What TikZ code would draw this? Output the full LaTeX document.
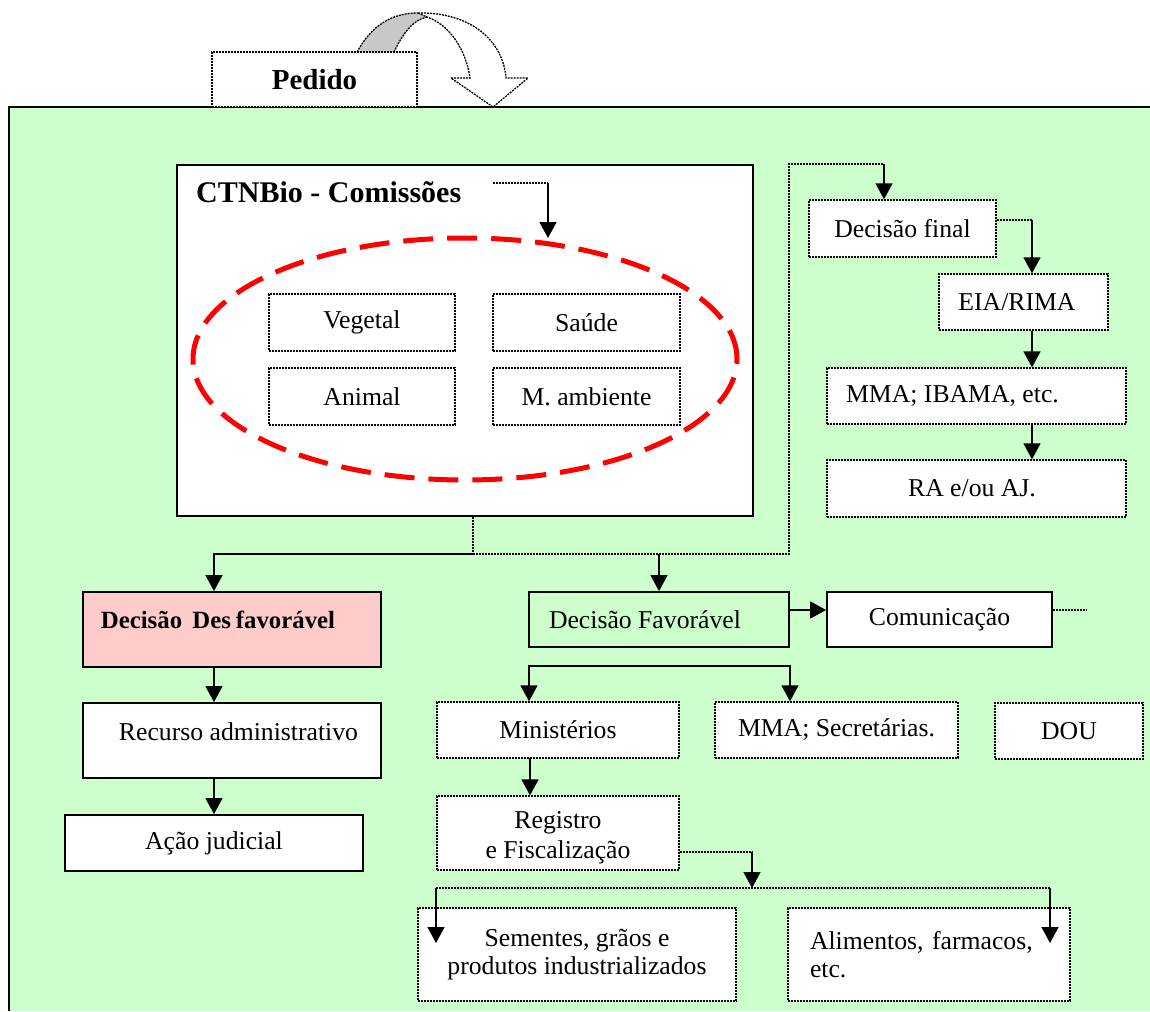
\documentclass[tikz,border=0pt]{standalone}
\usepackage{fontspec}
\setmainfont{Liberation Serif}
\usetikzlibrary{arrows.meta,calc}
\definecolor{bggreen}{HTML}{CCFFCC}
\definecolor{pinkfill}{HTML}{FFCCCC}
\definecolor{arrowgray}{HTML}{C8C8C8}
\newcommand{\txtfont}{\fontsize{25.7}{30}\selectfont}
\frenchspacing
\begin{document}
\begin{tikzpicture}[x=1pt,y=-1pt,
  >={Triangle[length=16pt,width=17pt]},
  solidbox/.style={draw, line width=1.8pt, fill=white, inner sep=0pt, font=\txtfont},
  dotbox/.style={draw, line width=1.3pt, dash pattern=on 2pt off 1pt, fill=white, inner sep=0pt, font=\txtfont},
  conn/.style={line width=1.5pt, ->},
  dotline/.style={line width=1.3pt, dash pattern=on 2pt off 1pt},
  lbl/.style={font=\txtfont, inner sep=0pt},
]
\useasboundingbox (0,0) rectangle (1150,1011);
% green area
\fill[bggreen] (9,107) rectangle (1150,1011);
\draw[line width=2pt] (9,1011) -- (9,107) -- (1150,107);

% curved block arrow above
\fill[arrowgray] (357,52) .. controls (372,25) and (392,13) .. (418,13) -- (427,17) .. controls (413,20) and (403,33) .. (394,52) -- cycle;
\draw[dotline, fill=white] (418,13) .. controls (470,12) and (503,40) .. (506,78) -- (528,78) -- (493,107) -- (451,78) -- (470,78) .. controls (466,50) and (450,25) .. (427,17) -- cycle;
\draw[dotline] (357,52) .. controls (372,25) and (392,13) .. (418,13);
\draw[dotline] (394,52) .. controls (403,33) and (413,20) .. (427,17);

% Pedido
\node[dotbox, minimum width=205pt, minimum height=55pt, font=\bfseries\fontsize{29}{34}\selectfont] (pedido) at (314.5,79.5) {Pedido};

% CTNBio box
\node[solidbox, minimum width=576pt, minimum height=351pt] (ctn) at (465,340.5) {};
\node[anchor=west, inner sep=0pt, font=\bfseries\fontsize{30}{34}\selectfont] (ctntitle) at (196,192) {CTNBio - Comissões};
\draw[red, line width=5pt, dash pattern=on 30pt off 14pt] (465,359) ellipse [x radius=272pt, y radius=121pt];
\node[dotbox, minimum width=186pt, minimum height=57pt] (vegetal) at (362,322.5) {Vegetal};
\node[dotbox, minimum width=187pt, minimum height=57pt] (saude) at (586.5,322.5) {Saúde};
\node[dotbox, minimum width=186pt, minimum height=57pt] (animal) at (362,396.5) {Animal};
\node[dotbox, minimum width=187pt, minimum height=57pt] (mamb) at (586.5,396.5) {M. ambiente};
\coordinate (t1) at (493,183);
\coordinate (t2) at (548,183);
\coordinate (t3) at (548,238);
\draw[dotline] (t1) -- (t2);
\draw[conn] (t2) -- (t3);

% left column
\node[solidbox, fill=pinkfill, minimum width=298pt, minimum height=75pt,
  label={[lbl, font=\bfseries\fontsize{24.8}{30}\selectfont, xshift=-14pt, yshift=9.5pt]center:Decisão\hspace{4pt} Des\kern5pt favorável}] (desf) at (232,629.5) {};
\node[solidbox, minimum width=298pt, minimum height=75pt,
  label={[lbl, xshift=6.5pt, yshift=8.5pt]center:Recurso administrativo}] (rec) at (232,740.5) {};
\node[solidbox, minimum width=298pt, minimum height=56pt] (acao) at (214,843) {Ação judicial};

% middle
\node[solidbox, fill=none, minimum width=260pt, minimum height=55pt] (fav) at (659,619.5) {\hspace*{-28pt}Decisão Favorável};
\node[solidbox, minimum width=225pt, minimum height=55pt] (com) at (939.5,619.5) {Comunicação};
\node[dotbox, minimum width=242pt, minimum height=56pt] (min) at (558,730) {Ministérios};
\node[dotbox, minimum width=243pt, minimum height=56pt] (mmasec) at (836.5,730) {MMA; Secretárias.};
\node[dotbox, minimum width=148pt, minimum height=56pt] (dou) at (1069,731) {DOU};
\node[dotbox, minimum width=242pt, minimum height=74pt,
  label={[lbl, align=center, yshift=-5pt]center:Registro\\e Fiscalização}] (reg) at (558,833) {};
\node[dotbox, minimum width=318pt, minimum height=93pt, align=center, font=\fontsize{25.7}{28}\selectfont] (sem) at (577,954.5) {Sementes, grãos e\\produtos industrializados};
\node[dotbox, minimum width=282pt, minimum height=93pt, inner xsep=22pt, text width=238pt, align=left, font=\fontsize{25.7}{28}\selectfont] (ali) at (929,954.5) {Alimentos, farmacos,\\etc.};

% right column
\node[dotbox, minimum width=187pt, minimum height=57pt] (decfinal) at (902.5,228.5) {Decisão final};
\node[dotbox, minimum width=169pt, minimum height=56pt] (eia) at (1023.5,302) {\hspace*{-13pt}EIA/RIMA};
\node[dotbox, minimum width=299pt, minimum height=56pt] (mmaib) at (976.5,396) {\hspace*{-48pt}MMA; IBAMA, etc.};
\node[dotbox, minimum width=299pt, minimum height=57pt] (ra) at (976.5,488.5) {\hspace*{-9pt}RA e/ou AJ.};

% connectors from CTNBio
\coordinate (j) at (473,554);
\coordinate (r1) at (789,554);
\coordinate (r2) at (789,164);
\coordinate (r3) at (884,164);
\draw[dotline] (j |- ctn.south) -- (j);
\draw[conn] (j) -- (j -| acao.north) -- (desf.north -| acao.north);
\draw[dotline] (j) -- (r1) -- (r2) -- (r3);
\draw[conn] (r3) -- (r3 |- decfinal.north);
\draw[conn] (fav.north |- j) -- (fav.north);

% left column arrows
\draw[conn] (desf.south -| acao.north) -- (rec.north -| acao.north);
\draw[conn] (rec.south -| acao.north) -- (acao.north);

% right column arrows
\coordinate (c1) at (1032,220);
\draw[dotline] (decfinal.east |- c1) -- (c1);
\draw[conn] (c1) -- (c1 |- eia.north);
\draw[conn] (c1 |- eia.south) -- (c1 |- mmaib.north);
\draw[conn] (c1 |- mmaib.south) -- (c1 |- ra.north);

% favourable branch
\draw[conn] ([yshift=9.5pt]fav.east) -- ([yshift=9.5pt]com.west);
\coordinate (cs) at (1086,610);
\draw[dotline] (com.east |- cs) -- (cs);
\coordinate (b1) at (529,666);
\coordinate (b2) at (790,666);
\draw[line width=1.5pt, <->] (b1 |- min.north) -- (b1) -- (b2) -- (b2 |- mmasec.north);
\coordinate (m1) at (530,758);
\draw[conn] (m1) -- (m1 |- reg.north);

% registro branch
\coordinate (g1) at (752,852);
\coordinate (g2) at (752,888);
\coordinate (gl) at (436,888);
\coordinate (gr) at (1050,888);
\draw[dotline] (reg.east |- g1) -- (g1);
\draw[conn] (g1) -- (g2);
\draw[dotline] (gl) -- (gr);
\draw[conn] (gl) -- (436,943);
\draw[conn] (gr) -- (1050,943);
\end{tikzpicture}
\end{document}
